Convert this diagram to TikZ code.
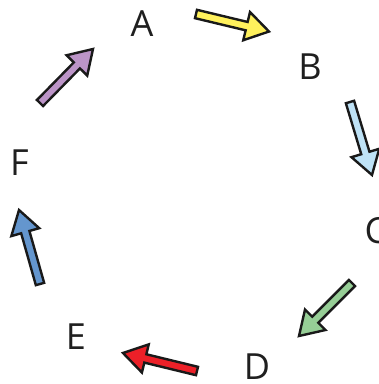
\documentclass[tikz,border=0pt]{standalone}
\usepackage{fontspec}
\setmainfont{Open Sans}
\usetikzlibrary{calc}

% fill colours of the block arrows
\definecolor{arYellow}{RGB}{255,241,92}
\definecolor{arSky}{RGB}{190,226,246}
\definecolor{arGreen}{RGB}{150,206,150}
\definecolor{arRed}{RGB}{236,32,40}
\definecolor{arBlue}{RGB}{100,150,206}
\definecolor{arPurple}{RGB}{188,148,200}

\tikzset{
  letter/.style={anchor=base, inner sep=0pt, font=\fontsize{36}{36}\selectfont, text=black!88},
  blockarrowline/.style={draw=black!90, line width=2.4pt, line join=miter, miter limit=6},
}

% block arrow from tail coordinate #1 to tip coordinate #2, filled with #3
\newcommand\blockarr[3]{%
  \coordinate (#1-hb) at ($(#2)!23pt!(#1)$);
  \filldraw[blockarrowline, fill=#3]
    ($(#1)!4.3pt!90:(#2)$) -- ($(#1)!4.3pt!-90:(#2)$)
    -- ($(#1-hb)!4.3pt!-90:(#2)$) -- ($(#1-hb)!14.5pt!-90:(#2)$)
    -- (#2)
    -- ($(#1-hb)!14.5pt!90:(#2)$) -- ($(#1-hb)!4.3pt!90:(#2)$)
    -- cycle;
}

\begin{document}
\begin{tikzpicture}[x={(1pt,0pt)}, y={(0pt,-1pt)}]
  \useasboundingbox (0,0) rectangle (379,384);

  % letters round the circle
  \node[letter] (A) at (142,36) {A};
  \node[letter] (B) at (310,79) {B};
  \node[letter] (C) at (376,243) {C};
  \node[letter] (D) at (257,379) {D};
  \node[letter] (E) at (76,349) {E};
  \node[letter] (F) at (19.5,175) {F};

  % tails and tips of the arrows
  \coordinate (ab0) at (196,14);   \coordinate (ab1) at (269,31.5);
  \coordinate (bc0) at (350,102);  \coordinate (bc1) at (372,175);
  \coordinate (cd0) at (352,283);  \coordinate (cd1) at (299,336);
  \coordinate (de0) at (197,371);  \coordinate (de1) at (123,353);
  \coordinate (ef0) at (40,284);   \coordinate (ef1) at (19,210);
  \coordinate (fa0) at (40,103);   \coordinate (fa1) at (93,49);

  \blockarr{ab0}{ab1}{arYellow}
  \blockarr{bc0}{bc1}{arSky}
  \blockarr{cd0}{cd1}{arGreen}
  \blockarr{de0}{de1}{arRed}
  \blockarr{ef0}{ef1}{arBlue}
  \blockarr{fa0}{fa1}{arPurple}
\end{tikzpicture}
\end{document}
